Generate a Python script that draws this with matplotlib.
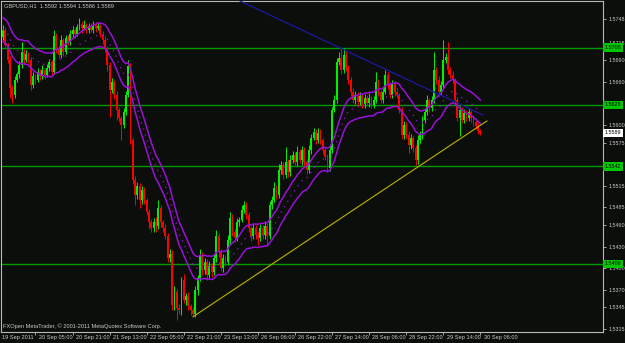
import matplotlib

matplotlib.use("Agg")
import matplotlib.pyplot as plt  # noqa: E402
import matplotlib.transforms as mtransforms  # noqa: E402
import numpy as np  # noqa: E402
import pandas as pd  # noqa: E402

# GBPUSD H1, prices in pips above 1.0000 (5733 -> 1.5733); open = previous close
first_open = 5723
close_pips = [
    5733, 5712, 5691, 5652, 5642, 5663, 5671, 5684, 5702, 5691,
    5699, 5691, 5656, 5668, 5663, 5674, 5668, 5677, 5670, 5680,
    5688, 5674, 5724, 5707, 5698, 5719, 5702, 5721, 5716, 5727,
    5733, 5727, 5737, 5741, 5735, 5740, 5733, 5738, 5733, 5740,
    5735, 5738, 5727, 5719, 5707, 5684, 5649, 5660, 5642, 5621,
    5610, 5600, 5618, 5642, 5682, 5579, 5523, 5502, 5515, 5495,
    5509, 5495, 5478, 5464, 5456, 5464, 5459, 5484, 5464, 5456,
    5445, 5414, 5420, 5348, 5367, 5344, 5341, 5383, 5355, 5361,
    5347, 5341, 5336, 5369, 5386, 5418, 5397, 5408, 5390, 5403,
    5394, 5414, 5445, 5422, 5400, 5414, 5408, 5439, 5470, 5450,
    5442, 5464, 5467, 5481, 5488, 5474, 5456, 5445, 5456, 5446,
    5442, 5456, 5446, 5459, 5445, 5488, 5495, 5512, 5502, 5537,
    5544, 5530, 5548, 5534, 5551, 5558, 5548, 5562, 5551, 5565,
    5548, 5537, 5565, 5582, 5590, 5579, 5589, 5579, 5565, 5555,
    5540, 5565, 5621, 5635, 5688, 5694, 5677, 5698, 5680, 5663,
    5646, 5635, 5642, 5632, 5640, 5629, 5638, 5631, 5638, 5628,
    5635, 5660, 5646, 5635, 5646, 5670, 5656, 5642, 5657, 5646,
    5642, 5621, 5586, 5600, 5586, 5572, 5582, 5568, 5551, 5579,
    5586, 5607, 5618, 5635, 5624, 5635, 5677, 5663, 5646, 5656,
    5691, 5695, 5677, 5670, 5663, 5635, 5610, 5621, 5607, 5617,
    5610, 5618, 5610, 5604, 5598, 5592, 5589,
]
# wick length beyond the body, pips
upper_wick = [
    7, 4, 3, 5, 4, 6, 3, 5, 14, 4,
    5, 3, 4, 6, 3, 5, 4, 6, 3, 5,
    4, 3, 9, 5, 4, 6, 3, 5, 4, 6,
    5, 3, 4, 8, 4, 7, 3, 5, 4, 5,
    4, 6, 3, 4, 5, 3, 4, 6, 3, 5,
    4, 3, 6, 5, 9, 4, 3, 6, 5, 4,
    6, 4, 3, 5, 4, 6, 7, 11, 4, 3,
    5, 4, 6, 5, 8, 4, 6, 5, 9, 4,
    5, 3, 4, 6, 5, 8, 4, 6, 5, 7,
    4, 6, 8, 4, 5, 6, 4, 7, 8, 5,
    4, 6, 5, 7, 6, 4, 5, 3, 6, 4,
    5, 6, 4, 7, 4, 6, 5, 8, 4, 9,
    6, 4, 21, 5, 7, 6, 4, 8, 5, 6,
    4, 5, 7, 6, 5, 4, 6, 5, 3, 4,
    5, 6, 4, 7, 6, 8, 13, 9, 5, 4,
    4, 6, 5, 4, 6, 3, 5, 4, 6, 3,
    5, 14, 4, 3, 6, 7, 4, 3, 6, 4,
    5, 3, 4, 6, 4, 5, 6, 3, 4, 7,
    5, 6, 4, 7, 3, 6, 25, 4, 5, 6,
    28, 6, 21, 4, 5, 3, 4, 6, 4, 5,
    4, 6, 3, 4, 3, 4, 2,
]
lower_wick = [
    4, 3, 5, 14, 11, 4, 3, 5, 4, 6,
    3, 5, 7, 4, 6, 3, 5, 4, 6, 3,
    5, 4, 3, 6, 5, 4, 6, 3, 5, 4,
    4, 5, 3, 4, 6, 3, 5, 4, 3, 5,
    5, 3, 4, 6, 5, 8, 38, 5, 6, 14,
    6, 21, 5, 4, 3, 6, 6, 14, 5, 11,
    5, 6, 4, 10, 6, 5, 8, 4, 6, 5,
    4, 6, 5, 7, 6, 17, 5, 6, 4, 7,
    5, 6, 4, 5, 6, 4, 7, 5, 6, 4,
    6, 4, 5, 7, 4, 6, 5, 4, 6, 5,
    6, 4, 5, 3, 4, 6, 5, 7, 4, 6,
    10, 4, 6, 5, 13, 4, 5, 3, 6, 4,
    5, 6, 4, 7, 5, 4, 6, 5, 4, 7,
    5, 6, 4, 5, 3, 6, 4, 5, 6, 4,
    6, 5, 4, 3, 5, 4, 6, 5, 4, 6,
    5, 4, 6, 5, 4, 6, 5, 4, 6, 5,
    4, 5, 6, 4, 5, 3, 6, 5, 4, 6,
    5, 4, 6, 5, 4, 11, 5, 6, 7, 5,
    4, 6, 5, 4, 6, 5, 4, 6, 5, 4,
    5, 4, 6, 5, 4, 6, 5, 26, 5, 4,
    5, 4, 6, 5, 4, 5, 3,
]

level_lines = [1.5708, 1.5628, 1.5542, 1.5406]
last_price = 1.5589
price_ticks = [1.5748, 1.5715, 1.5690, 1.5660, 1.5600, 1.5575, 1.5515,
               1.5485, 1.5460, 1.5430, 1.5400, 1.5370, 1.5345, 1.5315]
time_labels = ["19 Sep 2011", "20 Sep 05:00", "20 Sep 21:00", "21 Sep 13:00",
               "22 Sep 05:00", "22 Sep 21:00", "23 Sep 13:00", "26 Sep 06:00",
               "26 Sep 22:00", "27 Sep 14:00", "28 Sep 06:00", "28 Sep 22:00",
               "29 Sep 14:00", "30 Sep 06:00"]
time_label_bars = [-2, 14, 30, 46, 62, 78, 94, 110, 126, 142, 158, 174, 190, 206]
# trendlines: (bar, price) end points
blue_line = ([102.3, 207.1], [1.57731, 1.56138])
yellow_line = ([82.0, 208.8], [1.5332, 1.56055])
header = "GBPUSD,H1  1.5592 1.5594 1.5586 1.5589"
footer = "FXOpen MetaTrader, \u00a9 2001-2011 MetaQuotes Software Corp."

plt.rcParams["font.family"] = ["Liberation Sans", "DejaVu Sans"]
BG = "#0c0e0c"
FG = "#c8c8c8"
BULL = "#00f000"
BEAR = "#ff0000"
PURPLE = "#9a10d8"
FS = 3.9

c = 1 + np.array(close_pips) / 10000.0
o = 1 + np.concatenate([[first_open], close_pips[:-1]]) / 10000.0
hi = np.maximum(o, c) + np.array(upper_wick) / 10000.0
lo = np.minimum(o, c) - np.array(lower_wick) / 10000.0
x = np.arange(len(c))

# envelopes around an exponential MA(20) of close, +/- 0.105 %
mid = pd.Series(c).ewm(span=20, adjust=False).mean()
env_up = mid * 1.00105
env_dn = mid * 0.99895

fig = plt.figure(figsize=(6.25, 3.43), dpi=100, facecolor=BG)
ax = fig.add_axes([1 / 625, 11 / 343, 602 / 625, 331 / 343], facecolor=BG)
ax.set_xlim(-0.86, 258.9)
ax.set_ylim(1.53107, 1.57731)

for lv in level_lines:
    ax.axhline(lv, color="#009a00", lw=1.0, zorder=1)

cols = np.where(c >= o, BULL, BEAR)
ax.vlines(x, lo, hi, colors=cols, lw=0.7, zorder=3)
body = np.maximum(np.abs(c - o), 0.00006)
ax.bar(x, body, bottom=np.minimum(o, c), width=0.8, color=cols, lw=0, zorder=3)

ax.plot(x, env_up, color=PURPLE, lw=1.1, zorder=4)
ax.plot(x, env_dn, color=PURPLE, lw=1.1, zorder=4)
ax.plot(x, mid, color=PURPLE, lw=0.9, ls=(0, (1, 4)), zorder=4)

ax.plot(*blue_line, color="#1a1a9c", lw=0.9, zorder=5)
ax.plot(*yellow_line, color="#b8b400", lw=0.8, zorder=5)

for s in ax.spines.values():
    s.set_color("#b8b8b8")
    s.set_linewidth(0.8)

ax.yaxis.tick_right()
ax.set_yticks(price_ticks, [f"{p:.4f}" for p in price_ticks])
ax.tick_params(axis="y", direction="out", length=2.5, width=0.6, color="#b8b8b8",
               labelcolor=FG, labelsize=FS, pad=1.2)
ax.set_xticks(time_label_bars[1:])
ax.set_xticklabels([])
ax.tick_params(axis="x", direction="out", length=2.5, width=0.6, color="#b8b8b8")

# time labels start just right of their tick
tr = mtransforms.blended_transform_factory(ax.transData, fig.transFigure)
for b, lab in zip(time_label_bars, time_labels):
    ax.text(b + 1.4, 0.017, lab, transform=tr, color=FG, fontsize=FS + 0.2,
            ha="left", va="center", clip_on=False)

# price boxes on the right scale
tr_y = mtransforms.blended_transform_factory(ax.transAxes, ax.transData)
for lv in level_lines:
    ax.text(1.003, lv, f"{lv:.4f}", transform=tr_y, fontsize=FS, color="black",
            ha="left", va="center", clip_on=False, zorder=10,
            bbox=dict(boxstyle="square,pad=0.3", fc="#00c800", ec="none"))
ax.text(1.003, last_price, f"{last_price:.4f}", transform=tr_y, fontsize=FS,
        color="black", ha="left", va="center", clip_on=False, zorder=10,
        bbox=dict(boxstyle="square,pad=0.3", fc="white", ec="none"))

fig.text(0.0064, 0.982, header, color=FG, fontsize=4.1, ha="left", va="center")
fig.text(0.005, 0.05, footer, color=FG, fontsize=4.1, ha="left", va="center")

fig.savefig("out.png", dpi=100, facecolor=BG)
